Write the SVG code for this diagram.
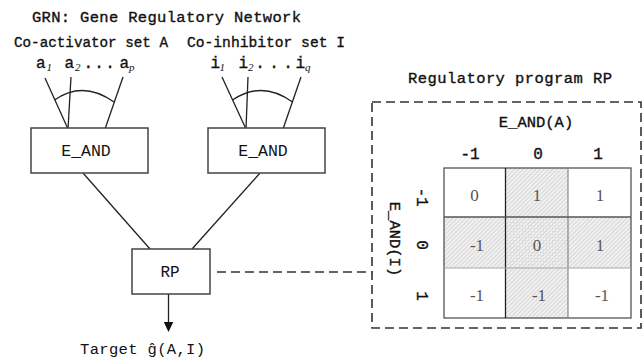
<svg xmlns="http://www.w3.org/2000/svg" width="643" height="358" viewBox="0 0 643 358">
<style>
.mono{font-family:"Liberation Mono","Courier New",monospace;fill:#111}
.b{stroke:#111;stroke-width:0.35}
.sub{font-family:"Liberation Serif","Times New Roman",serif;font-style:italic;font-size:11px;fill:#111;stroke:none}
.cell{font-family:"Liberation Serif","Times New Roman",serif;font-size:17px;fill:#555;text-anchor:middle}
.box{fill:#fff;stroke:#444;stroke-width:1.5}
.ln{stroke:#222;stroke-width:1.3;fill:none}
.dash{stroke:#333;stroke-width:1.6;fill:none;stroke-dasharray:9 5}
</style>
<defs>
<pattern id="hatch" width="3" height="3" patternUnits="userSpaceOnUse" patternTransform="rotate(45)">
<rect width="3" height="3" fill="#f1f1f1"/>
<line x1="0.5" y1="0" x2="0.5" y2="3" stroke="#d2d2d2" stroke-width="0.9"/>
</pattern>
<pattern id="dots" width="3" height="3" patternUnits="userSpaceOnUse">
<rect x="0" y="0" width="1.2" height="1.2" fill="#d6d6d6"/>
</pattern>
</defs>
<rect width="643" height="358" fill="#fff"/>

<text class="mono b" x="32" y="21.5" font-size="15.5" textLength="269">GRN: Gene Regulatory Network</text>

<g id="activators">
<text class="mono b" x="14" y="47" font-size="14.5" textLength="154" lengthAdjust="spacingAndGlyphs">Co-activator set A</text>
<text class="mono b" font-size="16" y="68"><tspan x="36">a</tspan><tspan class="sub" x="46.5" y="71">1</tspan><tspan x="64.5" y="68">a</tspan><tspan class="sub" x="75" y="71">2</tspan><tspan x="83.5 94.2 105.2" y="68">...</tspan><tspan x="119.5" y="68">a</tspan><tspan class="sub" x="129" y="71">p</tspan></text>
</g>
<g id="inhibitors">
<text class="mono b" x="187" y="47" font-size="14.5" textLength="158" lengthAdjust="spacingAndGlyphs">Co-inhibitor set I</text>
<text class="mono b" font-size="16" y="68"><tspan x="210.5">i</tspan><tspan class="sub" x="219.5" y="71">1</tspan><tspan x="238.5" y="68">i</tspan><tspan class="sub" x="248" y="71">2</tspan><tspan x="255.2 269.2 283.2" y="68">...</tspan><tspan x="295.5" y="68">i</tspan><tspan class="sub" x="305" y="71">q</tspan></text>
</g>

<g id="connectors">
<line class="ln" x1="45" y1="78" x2="68" y2="129"/>
<line class="ln" x1="71" y1="77" x2="68" y2="129"/>
<line class="ln" x1="123" y1="77" x2="105" y2="129"/>
<path class="ln" d="M54.5,100 Q83,80 114,102"/>
<line class="ln" x1="222" y1="77" x2="246" y2="129"/>
<line class="ln" x1="248" y1="77" x2="246" y2="129"/>
<line class="ln" x1="301" y1="77" x2="283" y2="129"/>
<path class="ln" d="M232.5,100 Q262,80 292.5,102"/>
<line class="ln" x1="83" y1="173" x2="150" y2="249"/>
<line class="ln" x1="260" y1="173" x2="192" y2="249"/>
<line class="ln" x1="168.5" y1="294" x2="168.5" y2="323"/>
<path d="M163.8,322 L173.3,322 L168.5,332 Z" fill="#111"/>
<line class="dash" x1="217" y1="272" x2="372" y2="272"/>
</g>

<g id="eand-a">
<rect class="box" x="31" y="128" width="117" height="45"/>
<text class="mono" x="86" y="156" font-size="16.5" text-anchor="middle">E_AND</text>
</g>
<g id="eand-i">
<rect class="box" x="208" y="128" width="117" height="45"/>
<text class="mono" x="263" y="156" font-size="16.5" text-anchor="middle">E_AND</text>
</g>
<g id="rp">
<rect class="box" x="132" y="249" width="78" height="45"/>
<text class="mono" x="170" y="277" font-size="16" text-anchor="middle">RP</text>
</g>
<g id="target">
<text class="mono" x="80" y="353.5" font-size="15.5" textLength="125">Target ĝ(A,I)</text>
</g>

<g id="regulatory-program">
<text class="mono b" x="510" y="83" font-size="15.5" text-anchor="middle" textLength="204">Regulatory program RP</text>
<rect class="dash" x="372" y="102" width="269" height="226"/>
<text class="mono b" x="536" y="127" font-size="15.5" text-anchor="middle">E_AND(A)</text>
<text class="mono b" font-size="16" text-anchor="middle" y="159"><tspan x="470">-1</tspan><tspan x="538">0</tspan><tspan x="598">1</tspan></text>
<text class="mono b" font-size="15.5" text-anchor="middle" transform="translate(390,239) rotate(90)">E_AND(I)</text>
<text class="mono b" font-size="16" text-anchor="middle" transform="translate(417,197) rotate(90)">-1</text>
<text class="mono b" font-size="16" text-anchor="middle" transform="translate(417,245) rotate(90)">0</text>
<text class="mono b" font-size="16" text-anchor="middle" transform="translate(417,296) rotate(90)">1</text>

<rect x="505.5" y="168" width="62.5" height="150" fill="url(#hatch)"/>
<rect x="444" y="217" width="187" height="51" fill="url(#hatch)"/>
<rect x="505.5" y="217" width="62.5" height="51" fill="url(#dots)"/>
<rect x="444" y="168" width="187" height="150" fill="none" stroke="#555" stroke-width="1.3"/>
<line x1="505.5" y1="168" x2="505.5" y2="318" stroke="#222" stroke-width="1.3"/>
<line x1="568" y1="168" x2="568" y2="318" stroke="#888" stroke-width="1.2"/>
<line x1="444" y1="217" x2="631" y2="217" stroke="#555" stroke-width="1.4"/>
<line x1="444" y1="268" x2="631" y2="268" stroke="#aaa" stroke-width="1.2"/>

<text class="cell" x="474.5" y="201">0</text>
<text class="cell" x="537" y="201">1</text>
<text class="cell" x="600" y="201">1</text>
<text class="cell" x="477" y="251">-1</text>
<text class="cell" x="537" y="251">0</text>
<text class="cell" x="600" y="251">1</text>
<text class="cell" x="477" y="301">-1</text>
<text class="cell" x="539" y="301">-1</text>
<text class="cell" x="602" y="301">-1</text>
</g>
</svg>
